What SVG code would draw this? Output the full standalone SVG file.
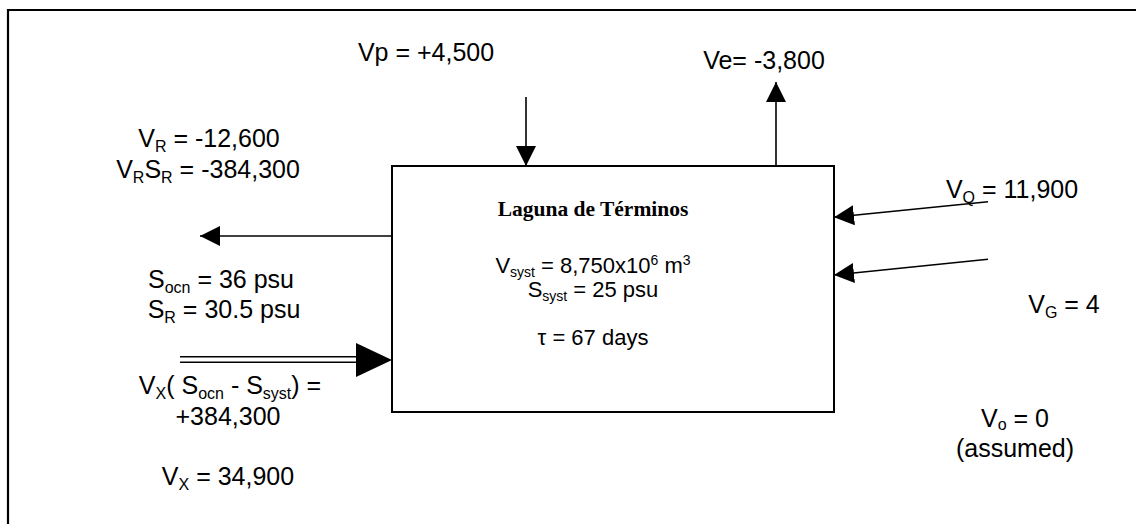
<svg xmlns="http://www.w3.org/2000/svg" width="1136" height="524" viewBox="0 0 1136 524">
<defs>
<style>
.t{font-family:"Liberation Sans",Arial,sans-serif;font-size:25px;fill:#000}
.s{font-size:16px}
.b{font-family:"Liberation Sans",Arial,sans-serif;font-size:22px;fill:#000}
.bs{font-size:14px}
.ttl{font-family:"Liberation Serif","Times New Roman",serif;font-size:21.5px;font-weight:bold;fill:#000}
.ln{stroke:#000;stroke-width:1.6;fill:none}
</style>
<marker id="ah" markerUnits="userSpaceOnUse" markerWidth="20" markerHeight="20" viewBox="0 0 20 20" refX="20" refY="10" orient="auto">
<path d="M0,0 L20,10 L0,20 Z" fill="#000"/>
</marker>
</defs>
<rect width="1136" height="524" fill="#fff"/>
<path id="frame" d="M8,530 L8,10 L1140,10" fill="none" stroke="#000" stroke-width="2.2"/>
<g id="lagoon">
<rect x="392" y="166" width="442" height="246" fill="#fff" stroke="#000" stroke-width="2"/>
<text class="ttl" x="593" y="216" text-anchor="middle">Laguna de Términos</text>
<text class="b" x="593" y="273" text-anchor="middle">V<tspan class="bs" dy="4">syst</tspan><tspan dy="-4"> = 8,750x10</tspan><tspan class="bs" dy="-8">6</tspan><tspan dy="8"> m</tspan><tspan class="bs" dy="-8">3</tspan></text>
<text class="b" x="593" y="297" text-anchor="middle">S<tspan class="bs" dy="4">syst</tspan><tspan dy="-4"> = 25 psu</tspan></text>
<text class="b" x="593" y="345" text-anchor="middle">τ = 67 days</text>
</g>
<g id="connectors">
<line class="ln" x1="526" y1="97" x2="526" y2="166" marker-end="url(#ah)"/>
<line class="ln" x1="776" y1="166" x2="776" y2="82" marker-end="url(#ah)"/>
<line class="ln" x1="392" y1="236" x2="200" y2="236" marker-end="url(#ah)"/>
<line class="ln" x1="988" y1="201.7" x2="834" y2="217.3" marker-end="url(#ah)"/>
<line class="ln" x1="988" y1="259.3" x2="834" y2="275" marker-end="url(#ah)"/>
<line class="ln" x1="180" y1="356.7" x2="362" y2="356.7"/>
<line class="ln" x1="180" y1="362.3" x2="362" y2="362.3"/>
<path d="M356,343 L392,360 L356,377 Z" fill="#000"/>
</g>
<g id="precip"><text class="t" x="426" y="61" text-anchor="middle">Vp = +4,500</text></g>
<g id="evap"><text class="t" x="764" y="69" text-anchor="middle">Ve= -3,800</text></g>
<g id="residual">
<text class="t" x="209" y="147" text-anchor="middle">V<tspan class="s" dy="5">R</tspan><tspan dy="-5"> = -12,600</tspan></text>
<text class="t" x="208" y="178" text-anchor="middle">V<tspan class="s" dy="5">R</tspan><tspan dy="-5">S</tspan><tspan class="s" dy="5">R</tspan><tspan dy="-5"> = -384,300</tspan></text>
</g>
<g id="salinity">
<text class="t" x="221" y="288" text-anchor="middle">S<tspan class="s" dy="5">ocn</tspan><tspan dy="-5"> = 36 psu</tspan></text>
<text class="t" x="224" y="318" text-anchor="middle">S<tspan class="s" dy="5">R</tspan><tspan dy="-5"> = 30.5 psu</tspan></text>
</g>
<g id="exchange">
<text class="t" x="230" y="394" text-anchor="middle">V<tspan class="s" dy="5">X</tspan><tspan dy="-5">( S</tspan><tspan class="s" dy="5">ocn</tspan><tspan dy="-5"> - S</tspan><tspan class="s" dy="5">syst</tspan><tspan dy="-5">) =</tspan></text>
<text class="t" x="228" y="425" text-anchor="middle">+384,300</text>
<text class="t" x="228" y="485" text-anchor="middle">V<tspan class="s" dy="5">X</tspan><tspan dy="-5"> = 34,900</tspan></text>
</g>
<g id="river"><text class="t" x="1012" y="198" text-anchor="middle">V<tspan class="s" dy="5">Q</tspan><tspan dy="-5"> = 11,900</tspan></text></g>
<g id="groundwater"><text class="t" x="1064" y="313" text-anchor="middle">V<tspan class="s" dy="5">G</tspan><tspan dy="-5"> = 4</tspan></text></g>
<g id="other">
<text class="t" x="1015" y="427" text-anchor="middle">V<tspan class="s" dy="3">o</tspan><tspan dy="-3"> = 0</tspan></text>
<text class="t" x="1015" y="457" text-anchor="middle">(assumed)</text>
</g>
</svg>
